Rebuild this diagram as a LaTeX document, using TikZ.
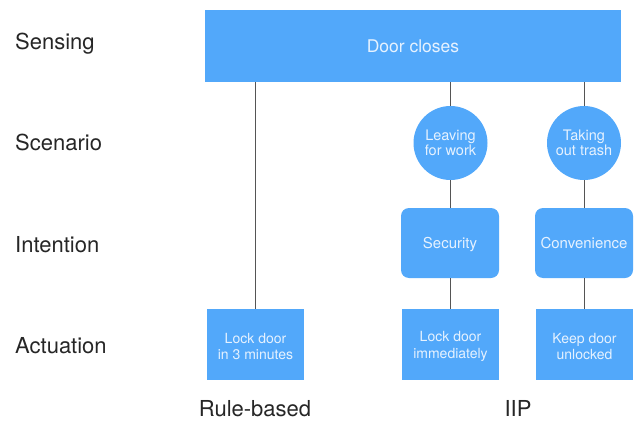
\documentclass[tikz,border=0pt]{standalone}
\usepackage{fontspec}
\setmainfont{TeX Gyre Heros}
\usetikzlibrary{calc}
\definecolor{boxblue}{HTML}{52A8FA}
\definecolor{boxtext}{HTML}{E6F2FF}
\definecolor{linegray}{HTML}{555555}
\tikzset{
  blk/.style={fill=boxblue, draw=none, text=boxtext, align=center, inner sep=0pt},
  sqbox/.style={blk, minimum width=97pt, minimum height=71pt},
  acttext/.style={blk, fill=none, font=\fontsize{14}{16.5}\selectfont},
  rbox/.style={blk, rounded corners=8pt, minimum width=98pt, minimum height=70pt, text height=11pt, text depth=0pt, font=\fontsize{15}{17}\selectfont},
  circ/.style={blk, circle, minimum size=74pt, font=\fontsize{14.5}{15.5}\selectfont},
  lvl/.style={anchor=base west, inner sep=0pt, text=black!85, font=\fontsize{22}{24}\selectfont},
  grp/.style={anchor=base, inner sep=0pt, text=black!85, font=\fontsize{22}{24}\selectfont},
  conn/.style={draw=linegray, line width=1pt}
}
\begin{document}
\begin{tikzpicture}[x=1pt,y=-1pt]
\useasboundingbox (0,0) rectangle (634,420);
% level labels
\node[lvl] (sensing) at (15,50) {Sensing};
\node[lvl] (scenario) at (15,150) {Scenario};
\node[lvl] (intention) at (15,252) {Intention};
\node[lvl] (actuation) at (15,353) {Actuation};
% top sensing block
\node[blk, minimum width=416pt, minimum height=71pt, font=\fontsize{17.5}{20}\selectfont] (door) at (413,46) {Door closes};
% scenarios
\node[circ] (leave) at (450.5,143) {Leaving\\for work};
\node[circ] (trash) at (584,143) {Taking\\out trash};
% intentions
\node[rbox] (sec) at (450,243) {Security};
\node[rbox] (conv) at (584,243) {Convenience};
% actuation
\node[sqbox] (act1) at (255.5,344.5) {};
\node[sqbox] (act2) at (450.5,344.5) {};
\node[sqbox] (act3) at (584.5,344.5) {};
\node[acttext] (t1) at ([yshift=-2pt]act1.center) {Lock door\\in 3 minutes};
\node[acttext] (t2) at ([yshift=-2pt]act2.center) {Lock door\\immediately};
\node[acttext] (t3) at ([yshift=-2pt]act3.center) {Keep door\\unlocked};
% group labels
\node[grp] (rule) at (255,416) {Rule-based};
\node[grp] (iip) at (518,416) {IIP};
% connectors
\draw[conn] (act1.north) -- (act1.north |- door.south);
\draw[conn] (leave.north) -- (leave.north |- door.south);
\draw[conn] (trash.north) -- (trash.north |- door.south);
\draw[conn] (leave.south) -- (leave.south |- sec.north);
\draw[conn] (trash.south) -- (trash.south |- conv.north);
\draw[conn] (act2.north) -- (act2.north |- sec.south);
\draw[conn] (act3.north) -- (act3.north |- conv.south);
\end{tikzpicture}
\end{document}
